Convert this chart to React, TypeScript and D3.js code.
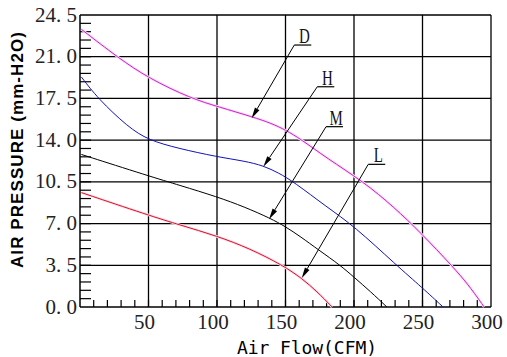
import React from "react";
import * as d3 from "d3";

const W = 507;
const H = 357;

const xTicks = [50, 100, 150, 200, 250, 300];
const yTicks = [0, 3.5, 7, 10.5, 14, 17.5, 21, 24.5];

const dFlow = [1, 28, 50, 81, 101, 126, 140, 150, 161, 180, 207, 229, 249, 272, 284, 295];
const dPress = [23.3, 20.9, 19.2, 17.5, 16.8, 15.95, 15.4, 14.85, 14.1, 12.5, 10.5, 8.4, 6.2, 3.4, 1.8, 0];

const hFlow = [1, 13, 35, 50, 72, 100, 120, 134, 145, 156, 180, 200, 231, 250, 265];
const hPress = [19.3, 17.5, 15.1, 14.0, 13.3, 12.6, 12.25, 11.85, 11.25, 10.5, 8.4, 6.8, 3.5, 1.6, 0];

const mFlow = [1, 50, 73, 100, 120, 139, 150, 161, 174, 190, 200, 212, 224];
const mPress = [12.8, 11.0, 10.2, 9.25, 8.4, 7.44, 6.74, 5.9, 4.8, 3.5, 2.5, 1.3, 0];

const lFlow = [1, 50, 73, 100, 124, 148, 162, 173, 184];
const lPress = [9.6, 7.7, 6.88, 5.96, 4.9, 3.5, 2.4, 1.3, 0];

const seriesNames = ["D", "H", "M", "L"];
const seriesFlows = [dFlow, hFlow, mFlow, lFlow];
const seriesPress = [dPress, hPress, mPress, lPress];
const seriesColors = ["#cc22cc", "#1111bb", "#000000", "#dd1111"];

// annotation: arrow tip on curve (flow, pressure) and label anchor (flow, pressure)
const tipFlow = [125.3, 133.8, 138, 161.8];
const tipPress = [15.83, 11.77, 7.36, 2.41];
const labFlow = [156.4, 173.2, 179.6, 210.4];
const labPress = [21.98, 18.48, 15.13, 11.97];

export default function App() {
  const x = d3.scaleLinear().domain([0, 300]).range([80, 491]);
  const y = d3.scaleLinear().domain([0, 24.5]).range([307, 15]);

  const line = d3
    .line<[number, number]>()
    .x((d) => x(d[0]))
    .y((d) => y(d[1]))
    .curve(d3.curveBasis);

  const xMinor = d3.range(10, 300, 10);
  const yMinor = d3.range(0.7, 24.5, 0.7);

  const fmt = (v: number) => v.toFixed(1).replace(".", ". ");

  return (
    <svg
      width={W}
      height={H}
      style={{ position: "absolute", left: 0, top: 0, background: "#fff" }}
    >
      <rect x={0} y={0} width={W} height={H} fill="#fff" />
      {/* grid */}
      {xTicks.map((t) => (
        <line key={"gx" + t} x1={x(t)} x2={x(t)} y1={y(0)} y2={y(24.5)} stroke="#000" strokeWidth={1.3} />
      ))}
      {yTicks.map((t) => (
        <line key={"gy" + t} x1={x(0)} x2={x(300)} y1={y(t)} y2={y(t)} stroke="#000" strokeWidth={1.3} />
      ))}
      <line x1={x(0)} x2={x(0)} y1={y(0)} y2={y(24.5)} stroke="#000" strokeWidth={1.5} />
      {/* minor ticks */}
      {xMinor.map((t) => (
        <line key={"mx" + t} x1={x(t)} x2={x(t)} y1={y(0)} y2={y(0) - 7} stroke="#000" strokeWidth={1.2} />
      ))}
      {yMinor.map((t, i) => (
        <line key={"my" + i} x1={x(0)} x2={x(0) + 11} y1={y(t)} y2={y(t)} stroke="#000" strokeWidth={1.2} />
      ))}
      {/* curves */}
      {seriesNames.map((n, i) => {
        const pts: [number, number][] = seriesFlows[i].map((f, j) => [f, seriesPress[i][j]]);
        return (
          <g key={n}>
            {(n === "D" || n === "L") && (
              <path d={line(pts) || ""} fill="none" stroke="#fadcf6" strokeWidth={2.6} />
            )}
            <path d={line(pts) || ""} fill="none" stroke={seriesColors[i]} strokeWidth={1} />
          </g>
        );
      })}
      {/* annotations */}
      {seriesNames.map((n, i) => {
        const tx = x(tipFlow[i]);
        const ty = y(tipPress[i]);
        const lx = x(labFlow[i]);
        const ly = y(labPress[i]);
        const ang = Math.atan2(ty - ly, tx - lx);
        const al = 11;
        const aw = 2.6;
        const bx = tx - al * Math.cos(ang);
        const by = ty - al * Math.sin(ang);
        const px = -Math.sin(ang) * aw;
        const py = Math.cos(ang) * aw;
        return (
          <g key={"a" + n}>
            <line x1={lx} y1={ly} x2={bx} y2={by} stroke="#000" strokeWidth={1} />
            <path d={`M${tx},${ty}L${bx + px},${by + py}L${bx - px},${by - py}Z`} fill="#000" />
            <line x1={lx} y1={ly} x2={lx + 17} y2={ly} stroke="#000" strokeWidth={1.2} />
            <text
              transform={`translate(${lx + 10},${ly - 2}) scale(0.68,1)`}
              textAnchor="middle"
              fontFamily="Liberation Serif"
              fontSize={22}
              fill="#111"
            >
              {n}
            </text>
          </g>
        );
      })}
      {/* y tick labels */}
      {yTicks.map((t) => (
        <text
          key={"yl" + t}
          x={77}
          y={y(t) + 6.5}
          textAnchor="end"
          fontFamily="Liberation Serif"
          fontSize={21}
          fill="#222"
        >
          {fmt(t)}
        </text>
      ))}
      {/* x tick labels */}
      {xTicks.map((t) => (
        <text
          key={"xl" + t}
          x={x(t) - 4}
          y={329}
          textAnchor="middle"
          fontFamily="Liberation Serif"
          fontSize={21}
          fill="#222"
        >
          {t}
        </text>
      ))}
      <text
        x={237}
        y={354}
        fontFamily="DejaVu Sans Mono"
        fontSize={18}
        fill="#000"
        textLength={140}
      >
        Air Flow(CFM)
      </text>
      <text
        transform={`translate(23,150) rotate(-90)`}
        textAnchor="middle"
        fontFamily="Liberation Sans"
        fontSize={17}
        fontWeight="bold"
        fill="#000"
        textLength={236}
      >
        AIR PRESSURE (mm-H2O)
      </text>
    </svg>
  );
}
